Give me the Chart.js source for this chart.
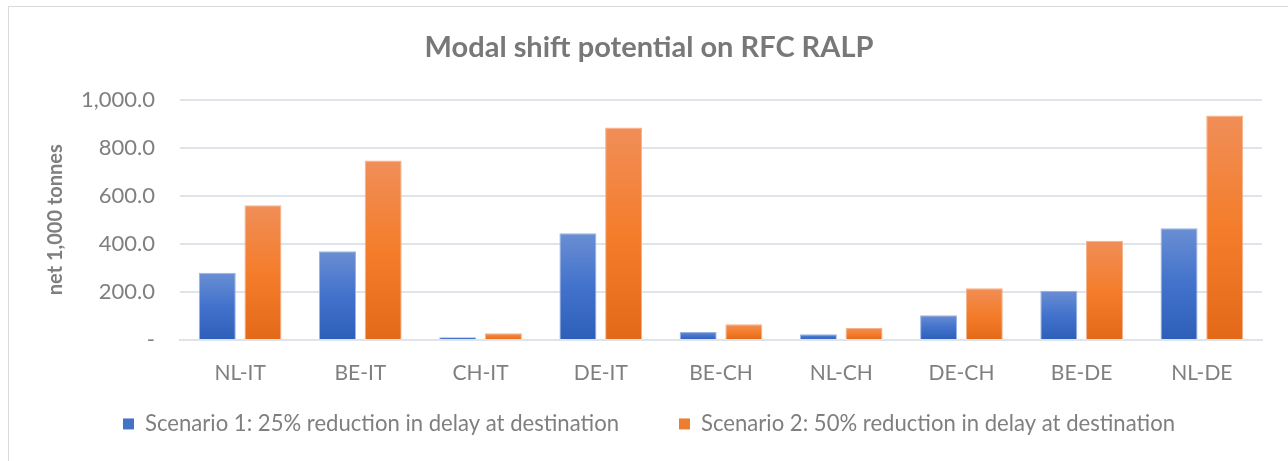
<!DOCTYPE html>
<html>
<head>
<meta charset="utf-8">
<script src="https://cdn.jsdelivr.net/npm/chart.js@4/dist/chart.umd.min.js"></script>
<style>
  html, body { margin: 0; padding: 0; background: #ffffff; }
  #wrap { position: relative; width: 1288px; height: 461px; overflow: hidden; }
  #frame { position: absolute; left: 8px; top: 6px; width: 1300px; height: 480px; border: 1px solid #d9d9d9; box-sizing: border-box; pointer-events: none; }
  canvas { position: absolute; left: 0; top: 0; }
</style>
</head>
<body>
<div id="wrap">
  <canvas id="c" width="1288" height="461"></canvas>
  <div id="frame"></div>
</div>
<script>
const categories = ["NL-IT", "BE-IT", "CH-IT", "DE-IT", "BE-CH", "NL-CH", "DE-CH", "BE-DE", "NL-DE"];
const scenario1 = [279, 369, 11, 444, 33, 24, 103, 204, 464];
const scenario2 = [560, 746, 28, 884, 65, 50, 215, 412, 933];
const seriesNames = ["Scenario 1: 25% reduction in delay at destination", "Scenario 2: 50% reduction in delay at destination"];
const yTicks = [0, 200, 400, 600, 800, 1000];
const chartTitle = "Modal shift potential on RFC RALP";
const yTitle = "net 1,000 tonnes";

const FONT = "Lato, 'Open Sans', sans-serif";
const TEXT = "#7f7f7f";

function barGradient(stops, fallback) {
  return function (ctx) {
    const chart = ctx.chart;
    if (!chart.chartArea || ctx.type !== 'data') return fallback;
    const y = chart.scales.y;
    const top = y.getPixelForValue(ctx.raw);
    const bottom = y.getPixelForValue(0);
    if (!isFinite(top) || !isFinite(bottom) || bottom - top < 1) return fallback;
    const g = chart.ctx.createLinearGradient(0, top, 0, bottom);
    g.addColorStop(0, stops[0]);
    g.addColorStop(0.5, stops[1]);
    g.addColorStop(1, stops[2]);
    return g;
  };
}

new Chart(document.getElementById('c'), {
  type: 'bar',
  data: {
    labels: categories,
    datasets: [
      {
        label: seriesNames[0],
        data: scenario1,
        backgroundColor: barGradient(['#6a8ed3', '#4272cc', '#2d5fb9'], '#4472c4'),
        borderColor: '#9bb4e2',
        borderWidth: 1,
        categoryPercentage: 0.76,
        barPercentage: 0.81
      },
      {
        label: seriesNames[1],
        data: scenario2,
        backgroundColor: barGradient(['#f08e58', '#f47d2b', '#e36918'], '#ed7d31'),
        borderColor: '#f6b28a',
        borderWidth: 1,
        categoryPercentage: 0.76,
        barPercentage: 0.81
      }
    ]
  },
  options: {
    responsive: false,
    animation: false,
    layout: { padding: { left: 36, right: 26, top: 24, bottom: 16 } },
    plugins: {
      title: {
        display: true,
        text: chartTitle,
        color: '#787878',
        font: { family: FONT, size: 29, weight: 'bold' },
        padding: { top: 6.6, bottom: 34.1 }
      },
      legend: {
        position: 'bottom',
        labels: {
          color: TEXT,
          font: { family: FONT, size: 22.1 },
          boxWidth: 11,
          boxHeight: 11,
          padding: 60,
          generateLabels: function (chart) {
            const fills = ['#4472c4', '#ed7d31'];
            return chart.data.datasets.map((ds, i) => ({
              text: ds.label,
              fillStyle: fills[i],
              strokeStyle: fills[i],
              lineWidth: 0,
              fontColor: TEXT,
              datasetIndex: i,
              hidden: false
            }));
          }
        }
      },
      tooltip: { enabled: false }
    },
    scales: {
      x: {
        grid: { display: false, drawTicks: false },
        border: { display: true, color: '#dfe3ea', width: 2 },
        ticks: { color: TEXT, font: { family: FONT, size: 21 }, padding: -46, mirror: true },
        afterFit: function (s) { s.height = 13; }
      },
      y: {
        min: 0,
        max: 1000,
        afterBuildTicks: function (s) { s.ticks = yTicks.map(v => ({ value: v })); },
        grid: { color: '#dfe3ea', lineWidth: 2, drawTicks: false },
        border: { display: false },
        ticks: {
          color: TEXT,
          font: { family: FONT, size: 22 },
          padding: 25,
          callback: function (v) {
            if (v === 0) return '-';
            return Number(v).toLocaleString('en-US', { minimumFractionDigits: 1, maximumFractionDigits: 1 });
          }
        },
        title: {
          display: true,
          text: yTitle,
          color: TEXT,
          font: { family: FONT, size: 20, weight: 'bold' },
          padding: { top: 8, bottom: 0 }
        },
        afterFit: function (s) { s.width = 144; }
      }
    }
  }
});
</script>
</body>
</html>
